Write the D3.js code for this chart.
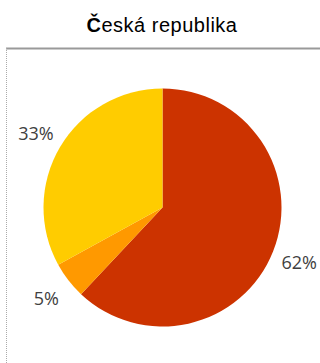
<!DOCTYPE html>
<html><head><meta charset="utf-8">
<script src="https://cdn.jsdelivr.net/npm/d3@7"></script>
<style>html,body{margin:0;padding:0;background:#fff;}</style>
</head><body>
<svg id="c" width="320" height="363"></svg>
<script>
const categories = ["A", "B", "C"];
const values = [62, 5, 33];
const labels = ["62%", "5%", "33%"];
const colors = ["#CC3300", "#FF9900", "#FFCC00"];

const svg = d3.select("#c");
const W = 320, H = 363;
// frame
svg.append("line").attr("x1", 6).attr("x2", 320).attr("y1", 48.5).attr("y2", 48.5)
  .attr("stroke", "#999").attr("stroke-width", 2);
svg.append("line").attr("x1", 6.5).attr("x2", 6.5).attr("y1", 48).attr("y2", 363)
  .attr("stroke", "#aaa").attr("stroke-width", 1).attr("stroke-dasharray", "1,1");

// title
const title = svg.append("text").attr("x", 162).attr("y", 32).attr("text-anchor", "middle")
  .attr("font-family", "Liberation Sans, Arial, sans-serif").attr("font-size", 20)
  .attr("letter-spacing", 0.5).attr("fill", "#000");
title.append("tspan").attr("font-weight", "bold").text("Č");
title.append("tspan").text("eská republika");

const cx = 162.5, cy = 207.5, r = 119;
const pie = d3.pie().sort(null).value(d => d);
const arcs = pie(values);
const arc = d3.arc().innerRadius(0).outerRadius(r);
const g = svg.append("g").attr("transform", `translate(${cx},${cy})`);
g.selectAll("path").data(arcs).join("path")
  .attr("d", arc).attr("fill", (d, i) => colors[i]);

const labelR = 147;
const labelArc = d3.arc().innerRadius(labelR).outerRadius(labelR);
g.selectAll("text").data(arcs).join("text")
  .attr("transform", d => `translate(${labelArc.centroid(d)})`)
  .attr("text-anchor", "middle").attr("dominant-baseline", "central")
  .attr("font-family", "Open Sans, sans-serif").attr("font-size", 18)
  .attr("fill", "#404040")
  .text((d, i) => labels[i]);
</script>
</body></html>
